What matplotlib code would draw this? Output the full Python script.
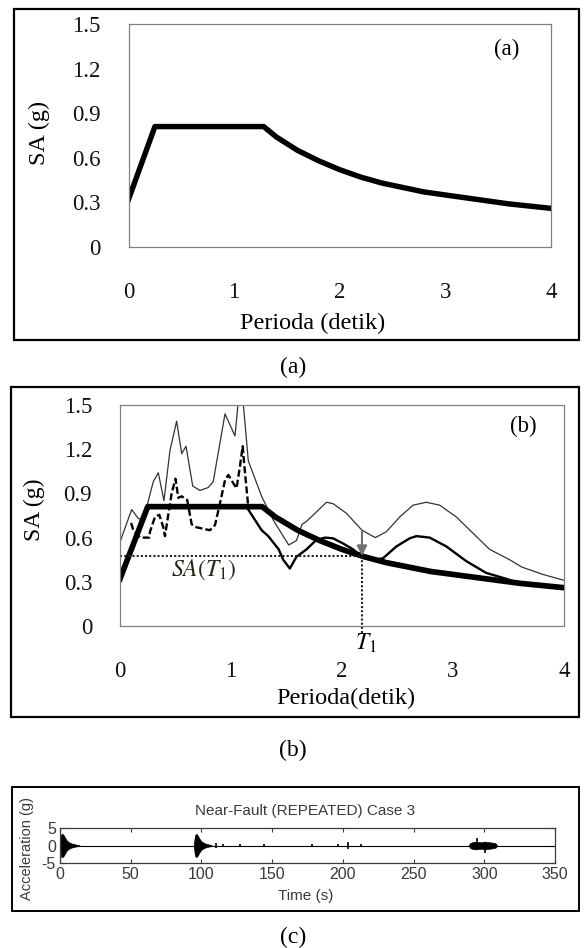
import matplotlib
matplotlib.use('Agg')
import matplotlib.pyplot as plt
from matplotlib.patches import Rectangle

W, H = 587, 948

# design spectrum, used in (a) and (b)
period_design = [0, 0.25, 1.28, 1.4, 1.6, 1.8, 2.0, 2.2, 2.4, 2.6, 2.8, 3.0, 3.2, 3.4, 3.6, 3.8, 4.0]
sa_design = [0.32, 0.81, 0.81, 0.74, 0.65, 0.58, 0.52, 0.47, 0.43, 0.40, 0.37, 0.35, 0.33, 0.31, 0.29, 0.275, 0.26]

# thin upper spectrum in (b)
period_upper = [0, 0.105, 0.165, 0.21, 0.30, 0.345, 0.396, 0.45, 0.51, 0.556, 0.595, 0.655, 0.72,
                0.795, 0.84, 0.946, 1.036, 1.075, 1.10, 1.156, 1.276, 1.38, 1.47, 1.52, 1.59, 1.64,
                1.68, 1.757, 1.86, 1.92, 2.04, 2.18, 2.30, 2.40, 2.52, 2.64, 2.76, 2.88, 3.03, 3.18,
                3.33, 3.51, 3.62, 3.81, 4.0]
sa_upper = [0.57, 0.79, 0.73, 0.72, 0.98, 1.04, 0.85, 1.19, 1.39, 1.17, 1.22, 0.95, 0.92,
            0.94, 0.98, 1.44, 1.29, 1.60, 1.60, 1.12, 0.88, 0.72, 0.61, 0.55, 0.58, 0.69,
            0.71, 0.765, 0.84, 0.83, 0.765, 0.65, 0.60, 0.64, 0.74, 0.82, 0.84, 0.82, 0.74, 0.63,
            0.52, 0.45, 0.40, 0.35, 0.31]

# dashed part of the middle spectrum in (b)
period_mid_dash = [0.10, 0.12, 0.18, 0.264, 0.27, 0.315, 0.354, 0.39, 0.405, 0.435, 0.465, 0.50,
                   0.525, 0.556, 0.606, 0.63, 0.646, 0.69, 0.75, 0.81, 0.856, 0.90, 0.946, 0.976,
                   1.02, 1.05, 1.08, 1.105, 1.126, 1.15, 1.156]
sa_mid_dash = [0.70, 0.65, 0.60, 0.60, 0.64, 0.74, 0.755, 0.67, 0.61, 0.755, 0.90, 1.00,
               0.87, 0.88, 0.855, 0.755, 0.69, 0.67, 0.66, 0.65, 0.685, 0.83, 0.99, 1.025,
               0.97, 0.935, 1.08, 1.22, 1.04, 0.855, 0.79]

# solid part of the middle spectrum in (b)
period_mid = [1.156, 1.216, 1.276, 1.336, 1.43, 1.47, 1.53, 1.59, 1.68, 1.77, 1.85, 1.92, 2.01,
              2.10, 2.18, 2.30, 2.37, 2.49, 2.61, 2.67, 2.79, 2.94, 3.12, 3.30, 3.48, 3.60, 3.80, 4.0]
sa_mid = [0.79, 0.72, 0.65, 0.61, 0.52, 0.45, 0.39, 0.47, 0.52, 0.585, 0.60, 0.595, 0.56,
          0.52, 0.47, 0.45, 0.46, 0.54, 0.595, 0.61, 0.60, 0.54, 0.44, 0.36, 0.32, 0.29, 0.275, 0.26]

t1 = 2.18
sa_t1 = 0.475

x_ticks = [0, 1, 2, 3, 4]
y_ticks = [0, 0.3, 0.6, 0.9, 1.2, 1.5]
y_tick_labels = ['0', '0.3', '0.6', '0.9', '1.2', '1.5']

# (c) acceleration record, drawn as envelopes and single spikes
burst1_t = [0, 0.8, 1.5, 2.5, 3.5, 4.5, 6, 8, 10, 12, 14]
burst1_amp = [0, 3.2, 3.4, 3.0, 2.3, 1.6, 1.0, 0.6, 0.4, 0.2, 0]
burst2_t = [94.5, 95.5, 96.5, 97.5, 98.5, 100, 102, 104, 106, 107.5]
burst2_amp = [0, 3.0, 3.3, 2.8, 2.0, 1.2, 0.7, 0.4, 0.25, 0]
burst3_t = [289, 290, 292, 294, 296, 298, 300, 302, 304, 306, 308, 309]
burst3_amp = [0, 0.7, 1.0, 1.1, 1.0, 0.9, 1.1, 1.0, 0.9, 0.8, 0.6, 0]
spike_t = [110, 115.5, 127, 144, 178, 196.5, 203.5, 213, 294.7, 300.5]
spike_lo = [-0.6, -0.5, -0.3, -0.4, -0.4, -0.4, -1.0, -0.5, -1.0, -2.1]
spike_hi = [0.6, 0.5, 0.3, 0.4, 0.4, 0.4, 1.0, 0.5, 2.1, 1.0]
time_ticks = [0, 50, 100, 150, 200, 250, 300, 350]
acc_ticks = [-5, 0, 5]

plt.rcParams['font.family'] = ['Liberation Serif', 'DejaVu Serif']
plt.rcParams['mathtext.fontset'] = 'stix'


def fx(px):
    return px / W


def fy(py):
    return 1 - py / H


def add_axes(fig, left, top, right, bottom):
    return fig.add_axes([left / W, 1 - bottom / H, (right - left) / W, (bottom - top) / H])


def frame(fig, left, top, right, bottom, lw=1.6):
    fig.add_artist(Rectangle((left / W, 1 - bottom / H), (right - left) / W, (bottom - top) / H,
                             transform=fig.transFigure, fill=False, lw=lw, ec='black'))


def spectrum_axes(ax):
    ax.set_xlim(0, 4)
    ax.set_ylim(0, 1.5)
    ax.set_xticks(x_ticks)
    ax.set_yticks(y_ticks)
    ax.set_yticklabels(y_tick_labels)
    ax.tick_params(length=0, labelsize=16.5, colors='#111111')
    ax.tick_params(axis='x', pad=25)
    ax.tick_params(axis='y', pad=20)
    for s in ax.spines.values():
        s.set_color('#808080')
        s.set_linewidth(0.9)


def plot_a(fig):
    frame(fig, 14, 9, 579, 340)
    ax = add_axes(fig, 128.5, 24, 551, 247)
    spectrum_axes(ax)
    ax.plot(period_design, sa_design, color='black', lw=3.9, solid_joinstyle='round')
    fig.text(fx(507), fy(49), '(a)', ha='center', va='center', fontsize=16.5)
    fig.text(fx(39), fy(133), 'SA (g)', ha='center', va='center', rotation=90, fontsize=17.5)
    fig.text(fx(313), fy(323), 'Perioda (detik)', ha='center', va='center', fontsize=17.5)
    fig.text(fx(293), fy(367), '(a)', ha='center', va='center', fontsize=17)


def plot_b(fig):
    frame(fig, 11, 387, 579, 717)
    ax = add_axes(fig, 120, 405, 564, 626)
    spectrum_axes(ax)
    ax.plot(period_upper, sa_upper, color='#333333', lw=0.9)
    ax.plot(period_mid_dash, sa_mid_dash, color='black', lw=1.7, ls=(0, (3, 1.3)))
    ax.plot(period_mid, sa_mid, color='black', lw=1.7)
    ax.plot(period_design, sa_design, color='black', lw=4.1, solid_joinstyle='round')
    ax.plot([0, t1], [sa_t1, sa_t1], color='#222222', lw=1.5, ls=(0, (1, 1)))
    ax.plot([t1, t1], [sa_t1, -0.055], color='#222222', lw=1.5, ls=(0, (1, 1)), clip_on=False)
    ax.annotate('', xy=(t1, sa_t1), xytext=(t1, 0.64),
                arrowprops=dict(arrowstyle='-|>', color='#707070', lw=1.5,
                                mutation_scale=15, shrinkA=0, shrinkB=0))
    fig.text(fx(204), fy(570), r'$SA(T_1)$', ha='center', va='center', fontsize=17, color='#2a2218')
    fig.text(fx(366), fy(643), r'$T_1$', ha='center', va='center', fontsize=17)
    fig.text(fx(523), fy(426), '(b)', ha='center', va='center', fontsize=16.5)
    fig.text(fx(34), fy(510), 'SA (g)', ha='center', va='center', rotation=90, fontsize=17)
    fig.text(fx(346), fy(698), 'Perioda(detik)', ha='center', va='center', fontsize=17.5)
    fig.text(fx(293), fy(750), '(b)', ha='center', va='center', fontsize=17)


def plot_c(fig):
    frame(fig, 12, 787, 579, 911, lw=1.4)
    ax = add_axes(fig, 60, 828, 555, 863)
    grey = '#3a3a3a'
    sans = ['Liberation Sans', 'DejaVu Sans']
    ax.axhline(0, color='black', lw=0.8)
    for t, a in [(burst1_t, burst1_amp), (burst2_t, burst2_amp), (burst3_t, burst3_amp)]:
        ax.fill_between(t, [-v for v in a], a, color='black', lw=0.5)
    ax.vlines(spike_t, spike_lo, spike_hi, color='black', lw=1.2)
    ax.set_xlim(0, 350)
    ax.set_ylim(-5, 5)
    ax.set_xticks(time_ticks)
    ax.set_yticks(acc_ticks)
    ax.set_yticklabels(['-5', '0', '5'])
    for lab in ax.get_xticklabels() + ax.get_yticklabels():
        lab.set_family(sans)
    ax.tick_params(direction='in', top=True, right=True, length=3, width=0.8,
                   labelsize=11.5, colors=grey, pad=3)
    for s in ax.spines.values():
        s.set_color(grey)
        s.set_linewidth(0.9)
    fig.text(fx(305), fy(811), 'Near-Fault (REPEATED) Case 3', ha='center', va='center',
             fontsize=11, color=grey, family=sans)
    fig.text(fx(27), fy(848), 'Acceleration (g)', ha='center', va='center', rotation=90,
             fontsize=10.5, color=grey, family=sans)
    fig.text(fx(306), fy(896), 'Time (s)', ha='center', va='center',
             fontsize=11, color=grey, family=sans)
    fig.text(fx(293), fy(937), '(c)', ha='center', va='center', fontsize=17)


def main():
    fig = plt.figure(figsize=(W / 100, H / 100), dpi=100)
    plot_a(fig)
    plot_b(fig)
    plot_c(fig)
    fig.savefig('out.png', dpi=100)


if __name__ == '__main__':
    main()
